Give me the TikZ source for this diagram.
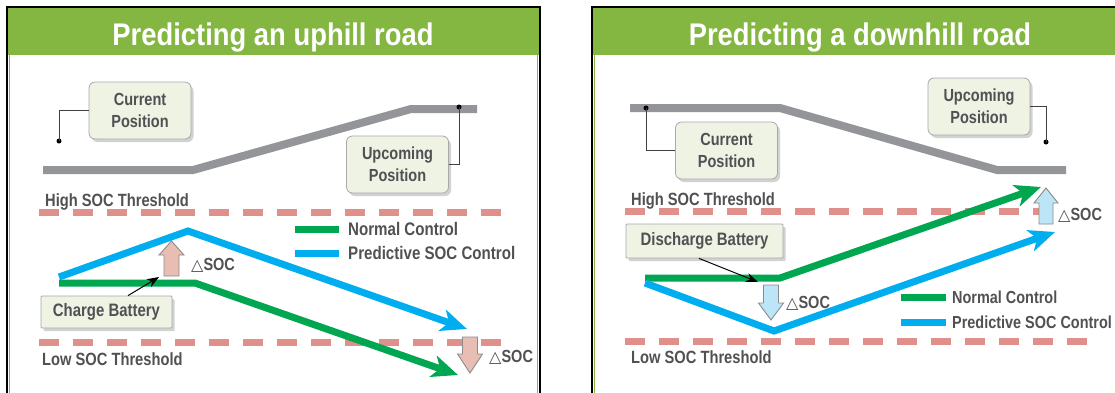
\documentclass[tikz,border=0pt]{standalone}
\usepackage{fontspec}
\setmainfont{Liberation Sans}[FakeStretch=0.83]
\newfontfamily\ttlfont{Liberation Sans}[FakeStretch=0.875]
\newfontfamily\symf{DejaVu Sans}
\usetikzlibrary{arrows.meta,shadows}
\definecolor{hdr}{HTML}{84B741}
\definecolor{txt}{HTML}{505153}
\definecolor{roadc}{HTML}{939598}
\definecolor{thrc}{HTML}{E0908A}
\definecolor{ngreen}{HTML}{00A650}
\definecolor{pblue}{HTML}{00AEEF}
\definecolor{boxf}{HTML}{EEF3E4}
\definecolor{boxd}{HTML}{A7A9AC}
\definecolor{pinkf}{HTML}{E8BDB3}
\definecolor{bluef}{HTML}{BDE5F8}
\begin{document}
\begin{tikzpicture}[x=1pt,y=-1pt,
  ttl/.style={text=white,font=\ttlfont\fontsize{31.3}{31}\selectfont\bfseries,anchor=base,inner sep=0pt},
  lbl/.style={text=txt,font=\fontsize{17.7}{20}\selectfont\bfseries,inner sep=0pt},
  lgd/.style={text=txt,font=\fontsize{18.2}{20}\selectfont\bfseries,inner sep=0pt,anchor=west},
  shad/.style={drop shadow={shadow xshift=2.5pt,shadow yshift=-3pt,opacity=0.25,fill=black!70}},
  posbox/.style={draw=boxd,fill=boxf,rounded corners=6pt,line width=0.8pt,minimum width=102pt,minimum height=57pt,align=center,text=txt,font=\fontsize{17.5}{22}\selectfont\bfseries,inner sep=0pt,shad},
  battbox/.style={draw=boxd,fill=boxf,rounded corners=1pt,line width=0.8pt,align=center,text=txt,font=\fontsize{18}{22}\selectfont\bfseries,inner sep=0pt,shad},
  road/.style={roadc,line width=8pt},
  thr/.style={thrc,line width=7pt,dash pattern=on 20pt off 14pt},
  normalln/.style={ngreen,line width=7pt},
  predln/.style={pblue,line width=7pt},
  ctrlarrow/.style={-{Stealth[length=26pt,width=22pt,inset=7pt]}},
  leader/.style={black!75,line width=0.9pt},
  dotc/.style={fill=black,circle,inner sep=0pt,minimum size=5pt},
  pointer/.style={black,line width=1pt,-{Stealth[length=12pt,width=9pt]}},
  dsoc/.style={draw=black!45,line width=0.9pt,line join=miter},
  dlbl/.style={text=txt,font=\fontsize{17.5}{20}\selectfont\bfseries,inner sep=0pt,anchor=base west}
]
\useasboundingbox (0,0) rectangle (1115,392);
\fill[white] (0,0) rectangle (1115,392);

% ---------- panel frames ----------
\fill[hdr] (8,8) rectangle (539,55);
\fill[hdr] (593,8) rectangle (1126,55);
\draw[hdr,line width=1pt] (9.5,55) -- (9.5,400);
\draw[hdr,line width=1pt] (537.5,55) -- (537.5,400);
\draw[hdr,line width=1pt] (594.5,55) -- (594.5,400);
\draw[line width=2pt] (7,400) -- (7,7) -- (540,7) -- (540,400);
\draw[line width=2pt] (592,400) -- (592,7) -- (1127,7);

\node[ttl] (t1) at (273,45) {Predicting an uphill road};
\node[ttl] (t2) at (860,45) {Predicting a downhill road};

% =============== LEFT PANEL ===============
\draw[thr] (39,212) -- (501,212);
\draw[thr] (39,342) -- (501,342);
\node[lbl,anchor=base west] (hi1) at (45,206) {High SOC Threshold};
\node[lbl,anchor=base west] (lo1) at (42,365) {Low SOC Threshold};

\draw[road] (43,170) -- (193,170) -- (411,109) -- (477,109);

\node[posbox] (cur1) at (140,110.5) {Current\\Position};
\node[posbox] (up1) at (397.5,164.5) {Upcoming\\Position};
\node[dotc] (cd1) at (59,141) {};
\node[dotc] (ud1) at (459,107) {};
\draw[leader] (cur1.west) -| (cd1.center);
\draw[leader] (up1.east) -| (ud1.center);

\draw[normalln,ctrlarrow] (59,283) -- (195,283) -- (458,375);
\draw[predln,ctrlarrow] (59,277) -- (188,231) -- (467,329);

% legend
\draw[normalln] (295,229) -- (339,229);
\draw[predln] (295,253) -- (339,253);
\node[lgd] (ln1) at (348,229) {Normal Control};
\node[lgd] (lp1) at (348,253) {Predictive SOC Control};

% delta SOC arrows
\draw[dsoc,fill=pinkf] (164,276) -- (164,255) -- (159,255) -- (171.5,241) -- (184,255) -- (179,255) -- (179,276) -- cycle;
\node[dlbl] (ds1) at (191,270) {{\symf\fontsize{16}{16}\selectfont △}SOC};
\draw[dsoc,fill=pinkf] (462.5,337) -- (477.5,337) -- (477.5,354) -- (482.5,354) -- (470,373) -- (457.5,354) -- (462.5,354) -- cycle;
\node[dlbl] (ds2) at (489,362) {{\symf\fontsize{16}{16}\selectfont △}SOC};

\node[battbox,minimum width=131pt,minimum height=32pt] (cb) at (106.5,312) {Charge Battery};
\coordinate (cbt) at (159,277);
\draw[pointer] ([xshift=21.5pt]cb.north) -- (cbt);

% =============== RIGHT PANEL ===============
\draw[thr] (625,211) -- (1047,211);
\draw[thr] (625,341) -- (1087,341);
\node[lbl,anchor=base west] (hi2) at (631,205) {High SOC Threshold};
\node[lbl,anchor=base west] (lo2) at (631,363) {Low SOC Threshold};

\draw[road] (630,108) -- (780,108) -- (997,170) -- (1066,170);

\node[posbox] (cur2) at (726.5,150.5) {Current\\Position};
\node[posbox] (up2) at (979,106.5) {Upcoming\\Position};
\node[dotc] (cd2) at (646,108) {};
\node[dotc] (ud2) at (1046,142) {};
\draw[leader] (cur2.west) -| (cd2.center);
\draw[leader] (up2.east) -| (ud2.center);

\draw[normalln,ctrlarrow] (645,278) -- (780,278) -- (1041,187);
\draw[predln,ctrlarrow] (645,283) -- (774,331) -- (1055,232);

% legend
\draw[normalln] (901,297) -- (946,297);
\draw[predln] (901,322) -- (946,322);
\node[lgd,font=\fontsize{17.4}{20}\selectfont\bfseries] (ln2) at (952,297) {Normal Control};
\node[lgd,font=\fontsize{17.4}{20}\selectfont\bfseries] (lp2) at (952,322) {Predictive SOC Control};

% delta SOC arrows
\draw[dsoc,fill=bluef] (763.5,285) -- (778.5,285) -- (778.5,303) -- (783.5,303) -- (771,320) -- (758.5,303) -- (763.5,303) -- cycle;
\node[dlbl] (ds3) at (786,308) {{\symf\fontsize{16}{16}\selectfont △}SOC};
\draw[dsoc,fill=bluef] (1039,224) -- (1039,203) -- (1034,203) -- (1046,188) -- (1058,203) -- (1053,203) -- (1053,224) -- cycle;
\node[dlbl] (ds4) at (1058,220) {{\symf\fontsize{16}{16}\selectfont △}SOC};

\node[battbox,minimum width=157pt,minimum height=34pt] (db) at (704.5,241) {Discharge Battery};
\coordinate (dbt) at (758,282);
\draw[pointer] ([xshift=-5.5pt]db.south) -- (dbt);
\end{tikzpicture}
\end{document}
